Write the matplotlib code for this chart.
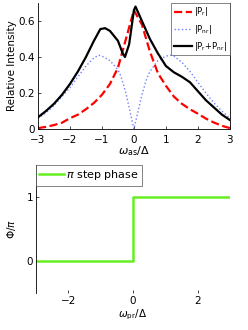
import matplotlib
matplotlib.use("Agg")
import matplotlib.pyplot as plt
import numpy as np

# top panel: intensities vs omega_as/Delta
x_r = [-3, -2.75, -2.5, -2.25, -2, -1.75, -1.5, -1.25, -1, -0.75, -0.5, -0.25, 0,
       0.25, 0.5, 0.75, 1, 1.25, 1.5, 1.75, 2, 2.25, 2.5, 2.75, 3]
p_r = [0.005, 0.012, 0.022, 0.035, 0.06, 0.08, 0.11, 0.145, 0.19, 0.25, 0.34, 0.5, 0.66,
       0.58, 0.43, 0.31, 0.24, 0.18, 0.14, 0.11, 0.085, 0.058, 0.036, 0.018, 0.005]

x_nr = [-3, -2.75, -2.5, -2.25, -2, -1.75, -1.5, -1.25, -1.1, -1, -0.75, -0.5, -0.4, -0.25, 0,
        0.25, 0.4, 0.5, 0.75, 1, 1.15, 1.25, 1.5, 1.75, 2, 2.25, 2.5, 2.75, 3]
p_nr = [0.06, 0.09, 0.13, 0.18, 0.23, 0.29, 0.35, 0.395, 0.41, 0.405, 0.38, 0.33, 0.29, 0.2, 0.0,
        0.19, 0.28, 0.32, 0.38, 0.405, 0.41, 0.405, 0.37, 0.32, 0.26, 0.2, 0.145, 0.1, 0.06]

x_sum = [-3, -2.75, -2.5, -2.25, -2, -1.75, -1.5, -1.25, -1.05, -0.9, -0.75, -0.5, -0.35,
         -0.28, -0.15, 0, 0.05, 0.25, 0.5, 0.75, 1, 1.25, 1.5, 1.75, 2, 2.25, 2.5, 2.75, 3]
p_sum = [0.065, 0.1, 0.14, 0.19, 0.25, 0.32, 0.4, 0.49, 0.555, 0.56, 0.545, 0.49, 0.42,
         0.4, 0.47, 0.66, 0.68, 0.6, 0.5, 0.42, 0.35, 0.315, 0.29, 0.26, 0.21, 0.16, 0.12, 0.08, 0.05]

# bottom panel: step phase
x_ph = [-3, 0, 0, 3]
phase = [0, 0, 1, 1]

fs = 7.5
fig = plt.figure(figsize=(2.48, 3.30), dpi=100)

ax1 = fig.add_axes([0.153, 0.609, 0.774, 0.382])
ax1.plot(x_r, p_r, "--", color="red", lw=1.6, label=r"|P$_\mathregular{r}$|")
ax1.plot(x_nr, p_nr, ":", color="#6f7fff", lw=1.0, label=r"|P$_\mathregular{nr}$|")
ax1.plot(x_sum, p_sum, "-", color="black", lw=1.6, label=r"|P$_\mathregular{r}$+P$_\mathregular{nr}$|")
ax1.set_xlim(-3, 3)
ax1.set_ylim(0, 0.7)
ax1.set_xticks(np.arange(-3, 4, 1))
ax1.set_yticks([0, 0.2, 0.4, 0.6])
ax1.set_yticklabels(["0", "0.2", "0.4", "0.6"])
ax1.tick_params(direction="in", labelsize=fs, length=2, width=0.5, pad=2)
ax1.tick_params(axis="x", pad=4)
ax1.spines["top"].set_visible(False)
for s in ax1.spines.values():
    s.set_linewidth(0.6)
ax1.set_ylabel("Relative Intensity", fontsize=fs, labelpad=1)
ax1.set_xlabel(r"$\omega_\mathregular{as}$/$\Delta$", fontsize=8, labelpad=0)
leg = ax1.legend(loc="upper right", fontsize=6, frameon=True, fancybox=False,
                 handlelength=2.2, borderpad=0.3, labelspacing=0.5, handletextpad=0.3,
                 borderaxespad=0.0)
leg.get_frame().set_edgecolor("0.3")
leg.get_frame().set_linewidth(0.6)

ax2 = fig.add_axes([0.145, 0.112, 0.782, 0.388])
ax2.plot(x_ph, phase, "-", color="#66ee22", lw=1.8, label=r"$\pi$ step phase")
ax2.set_xlim(-3, 3)
ax2.set_ylim(-0.5, 1.5)
ax2.set_xticks([-2, 0, 2])
ax2.set_yticks([0, 1])
ax2.tick_params(direction="in", labelsize=fs, length=2, width=0.5, pad=2)
for k in ["top", "right", "bottom"]:
    ax2.spines[k].set_visible(False)
ax2.spines["left"].set_linewidth(0.6)
ax2.set_ylabel(r"$\Phi$/$\pi$", fontsize=fs, labelpad=6)
ax2.set_xlabel(r"$\omega_\mathregular{pr}$/$\Delta$", fontsize=fs, labelpad=1)
leg2 = ax2.legend(loc="upper left", fontsize=8, frameon=True, fancybox=False,
                  handlelength=2.2, borderpad=0.3, handletextpad=0.2, borderaxespad=0.0)
leg2.get_frame().set_edgecolor("0.3")
leg2.get_frame().set_linewidth(0.6)

fig.savefig("out.png", dpi=100)
